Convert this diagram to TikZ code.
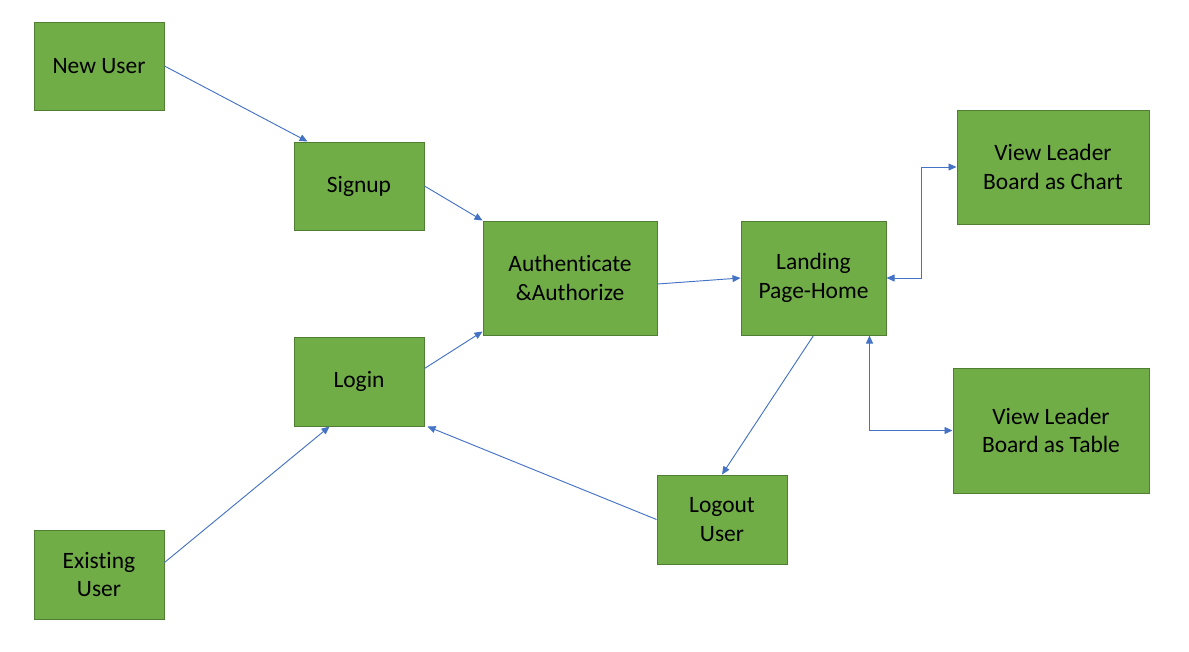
\documentclass[tikz,border=0pt]{standalone}
\usepackage{fontspec}
\setmainfont{Carlito}[Ligatures={NoCommon}]
\usetikzlibrary{arrows.meta,calc}
\definecolor{boxfill}{HTML}{70AD47}
\definecolor{boxline}{HTML}{507E32}
\definecolor{arrowc}{HTML}{4472C4}
\tikzset{
  box/.style={draw=boxline,fill=boxfill,line width=0.75pt,align=center,inner sep=0pt,
    font=\fontsize{17.6pt}{21.5pt}\selectfont,text=black},
  conn/.style={draw=arrowc,line width=0.7pt,-{Triangle[length=6pt,width=5.2pt]}},
  biconn/.style={draw=arrowc,line width=0.7pt,{Triangle[length=6pt,width=5.2pt]}-{Triangle[length=6pt,width=5.2pt]}}
}
\newcommand{\bx}[6]{% name, x1, y1, x2, y2, text
  \node[box,minimum width={(#4-#2)*0.75pt},minimum height={(#5-#3)*0.75pt}] (#1) at ({(#2+#4)/2},{(#3+#5)/2}) {#6};}
\begin{document}
\begin{tikzpicture}[x=0.75pt,y=-0.75pt]
\useasboundingbox (0,0) rectangle (1189,651);
\bx{newuser}{34}{22}{164}{110}{New User}
\bx{signup}{294}{142}{424}{230}{Signup}
\bx{auth}{483}{221}{657}{335}{Authenticate\\\&Authorize}
\bx{landing}{741}{221}{886}{335}{Landing\\Page-Home}
\bx{chart}{957}{110}{1149}{224}{View Leader\\Board as Chart}
\bx{table}{953}{368}{1149}{493}{View Leader\\Board as Table}
\bx{login}{294}{337}{424}{426}{Login}
\bx{logout}{657}{475}{787}{564}{Logout\\User}
\bx{existing}{34}{530}{164}{619}{Existing\\User}

\draw[conn] (newuser.east) -- ($(signup.north west)+(14,0)$);
\draw[conn] (signup.east) -- (auth.north west);
\draw[conn] ($(login.east)+(0,-13)$) -- ($(auth.south west)+(0,-4)$);
\draw[conn] ($(auth.east)+(0,6)$) -- (landing.west);
\draw[conn] (landing.south) -- (logout.north);
\draw[conn] (logout.west) -- ($(login.south east)+(3,0)$);
\draw[conn] ($(existing.east)+(0,-12)$) -- ($(login.south west)+(36,0)$);
\draw[biconn] (landing.east) -- ++(35,0) |- (chart.west);
\draw[biconn] ($(landing.south east)+(-17,0)$) |- (table.west);
\end{tikzpicture}
\end{document}
